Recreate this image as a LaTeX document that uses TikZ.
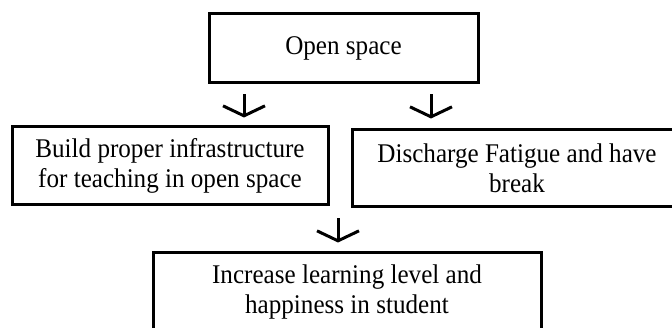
\documentclass[tikz,border=0pt]{standalone}
\usepackage{fontspec}
\setmainfont{Liberation Serif}[FakeStretch=0.93]
\usetikzlibrary{arrows.meta}
\begin{document}
\begin{tikzpicture}[x=1pt,y=-1pt,
  box/.style={draw=black, line width=3pt, fill=white, align=center,
    font=\fontsize{27}{30}\selectfont, inner sep=0pt},
  flow/.style={line width=3pt, -{Straight Barb[length=10pt,width=42pt,line width=3pt]}}]
  \clip (0,0) rectangle (672,328);
  \fill[white] (0,0) rectangle (672,328);

  \node[box, minimum width=269pt, minimum height=69pt] (open) at (343.5,48.5) {Open space};
  \node[box, minimum width=316pt, minimum height=78pt] (infra) at (170,166)
    {Build proper infrastructure\\for teaching in open space};
  \node[box, minimum width=330pt, minimum height=77pt] (rest) at (517,168.5)
    {Discharge Fatigue and have\\break};
  \node[box, minimum width=388pt, minimum height=79pt] (gain) at (347,292.5)
    {Increase learning level and\\happiness in student};

  \draw[flow, shorten <=10pt, shorten >=8pt]
    ([xshift=-99.5pt]open.south) -- ([xshift=-99.5pt]open.south |- infra.north);
  \draw[flow, shorten <=10pt, shorten >=10pt]
    ([xshift=87.5pt]open.south) -- ([xshift=87.5pt]open.south |- rest.north);
  \draw[flow, shorten <=12pt, shorten >=9pt]
    ([xshift=-9pt]gain.north |- infra.south) -- ([xshift=-9pt]gain.north);
\end{tikzpicture}
\end{document}
